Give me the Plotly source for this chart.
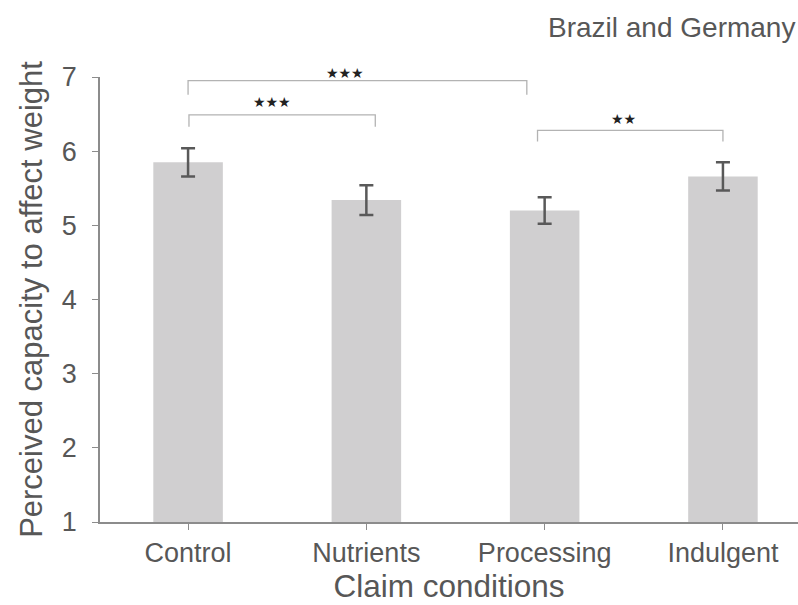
import plotly.graph_objects as go

# Mean perceived capacity to affect weight per claim condition (with error bars)
conditions = ["Control", "Nutrients", "Processing", "Indulgent"]
means = [5.85, 5.34, 5.20, 5.66]
errors = [0.19, 0.20, 0.18, 0.19]

y_ticks = [1, 2, 3, 4, 5, 6, 7]
y_range = [1, 7]

# Significance brackets: (left x, right x, top y, bottom y) in category units
bracket_left = [0.0, 0.005, 1.96]
bracket_right = [1.90, 1.05, 3.0]
bracket_top = [6.95, 6.49, 6.28]
bracket_bottom = [6.76, 6.33, 6.13]
star_labels = ["★★★", "★★★", "★★"]
star_x = [0.88, 0.47, 2.445]
star_y = [7.055, 6.66, 6.44]

TEXT = "#575757"
AXIS = "#8c8c8c"


def to_paper(v):
    return (v - y_range[0]) / (y_range[1] - y_range[0])


fig = go.Figure()
fig.add_trace(go.Bar(
    x=list(range(len(conditions))),
    y=means,
    width=0.39,
    marker=dict(color="#D0CFD0", line=dict(width=0)),
    error_y=dict(type="data", array=errors, visible=True,
                 color="#595959", thickness=2.5, width=7),
    showlegend=False,
))

shapes = []
for xl, xr, yt, yb in zip(bracket_left, bracket_right, bracket_top, bracket_bottom):
    shapes.append(dict(
        type="path", xref="x", yref="y",
        path=f"M {xl},{yb} L {xl},{yt} L {xr},{yt} L {xr},{yb}",
        line=dict(color="#b3b3b3", width=1.3),
    ))

annotations = []
for lbl, sx, sy in zip(star_labels, star_x, star_y):
    annotations.append(dict(
        x=sx, y=to_paper(sy), xref="x", yref="paper", text=lbl, showarrow=False,
        font=dict(family="DejaVu Sans", size=14, color="#222222"),
        xanchor="center", yanchor="middle",
    ))
annotations.append(dict(
    x=0.998, y=1.112, xref="paper", yref="paper", text="Brazil and Germany",
    showarrow=False, xanchor="right", yanchor="middle",
    font=dict(family="Liberation Sans", size=28, color=TEXT),
))

fig.update_layout(
    width=798, height=605,
    margin=dict(l=100, r=0, t=77, b=83),
    paper_bgcolor="white", plot_bgcolor="white",
    font=dict(family="Liberation Sans", color=TEXT),
    shapes=shapes, annotations=annotations,
    xaxis=dict(
        range=[-0.494, 3.421],
        tickmode="array", tickvals=list(range(len(conditions))), ticktext=conditions,
        tickfont=dict(size=27, color=TEXT),
        ticks="outside", ticklen=6, tickcolor=AXIS, tickwidth=1.3,
        showline=True, linecolor=AXIS, linewidth=1.5,
        showgrid=False, zeroline=False,
        title=dict(text="Claim conditions", font=dict(size=31.5, color=TEXT), standoff=2),
        automargin=False,
    ),
    yaxis=dict(
        range=y_range,
        tickmode="array", tickvals=y_ticks,
        tickfont=dict(size=27, color=TEXT),
        ticks="outside", ticklen=6, tickcolor=AXIS, tickwidth=1.3,
        ticklabelstandoff=10,
        showline=True, linecolor=AXIS, linewidth=1.5,
        showgrid=False, zeroline=False,
        title=dict(text="Perceived capacity to affect weight",
                   font=dict(size=31, color=TEXT), standoff=10),
        automargin=False,
    ),
)

fig.write_html("out.html")
